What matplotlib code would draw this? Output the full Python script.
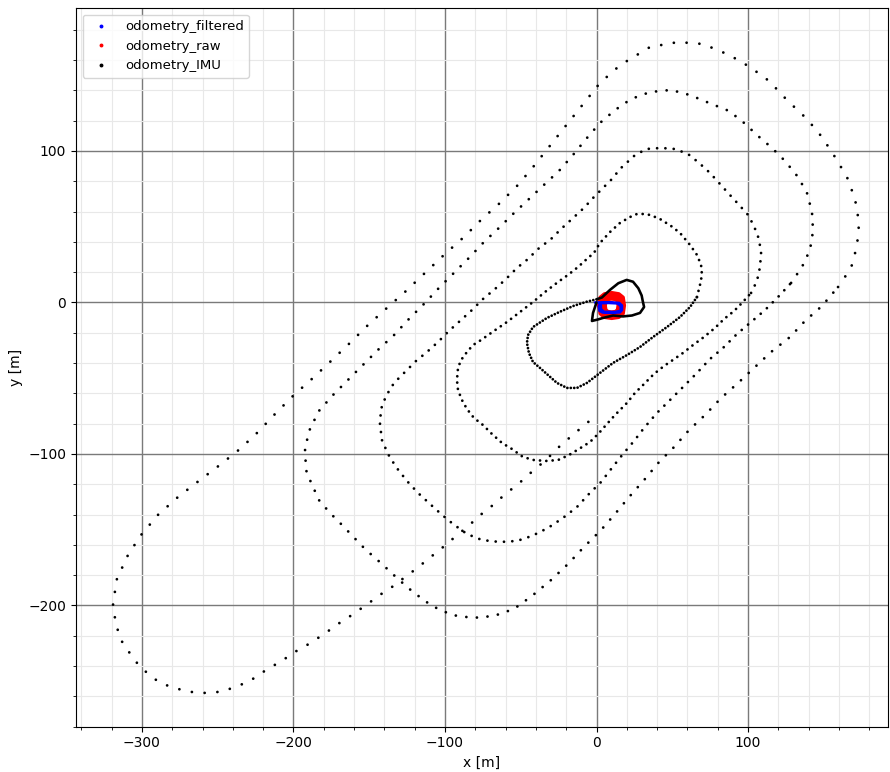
import matplotlib.pyplot as plt
from matplotlib.lines import Line2D
from matplotlib.ticker import MultipleLocator

# ---- odometry traces, metres (x, y) ----
filtered_xy = [(-1.0, 0.0), (4.0, 0.0), (10.0, 0.0), (15.0, -0.3), (16.8, -2.0),
               (16.8, -5.0), (15.5, -6.5), (10.0, -6.8), (4.0, -6.6), (2.0, -5.5),
               (1.5, -2.5), (2.5, -0.5), (8.0, -0.3), (14.0, -0.6), (16.0, -2.5),
               (16.0, -5.5), (12.0, -6.3), (5.0, -6.2), (3.0, -4.5), (2.8, -1.5)]

raw_xy = [(1.8, -2.0), (2.6, 3.3), (5.3, 5.5), (10.0, 6.3), (14.7, 5.5), (17.4, 3.3),
          (18.2, -2.0), (17.4, -7.3), (14.7, -9.6), (10.0, -10.3), (5.3, -9.6),
          (2.6, -7.3), (1.8, -2.0), (4.0, -2.0), (4.6, 2.0), (6.5, 3.5), (10.0, 4.0),
          (13.5, 3.5), (15.4, 2.0), (16.0, -2.0), (15.4, -6.0), (13.5, -7.6),
          (10.0, -8.0), (6.5, -7.6), (4.6, -6.0), (4.0, -2.0), (5.5, -2.0), (6.0, 1.0),
          (7.5, 2.2), (10.0, 2.5), (12.5, 2.2), (14.0, 1.0), (14.5, -2.0), (14.0, -5.0),
          (12.5, -6.2), (10.0, -6.5), (7.5, -6.2), (6.0, -5.0), (5.5, -2.0)]

# IMU odometry, split into laps of the drifting spiral
imu_lap_a = [(0.0, 0.0), (-2.3, -6.9), (-3.0, -12.2), (1.0, -11.2), (4.3, -10.2),
             (10.9, -8.6), (17.5, -9.2), (23.4, -8.6), (28.7, -6.9), (31.4, -3.0),
             (30.5, 1.0), (29.8, 4.6), (27.6, 9.4), (24.1, 13.7), (19.9, 14.9),
             (14.4, 12.7), (8.9, 8.3), (3.6, 3.3), (0.1, 2.1)]

imu_lap_b = [(0.1, 2.1), (-6.5, 0.5), (-15.3, -2.3), (-24.1, -6.1), (-32.7, -10.2),
             (-41.9, -16.2), (-45.2, -21.5), (-45.9, -26.7), (-44.6, -33.3),
             (-41.9, -39.3), (-37.3, -43.2), (-32.0, -47.9), (-26.1, -53.1),
             (-19.5, -56.4), (-12.9, -56.4), (-6.3, -53.1), (2.3, -46.5),
             (10.9, -39.9), (20.1, -34.7), (28.7, -29.4), (37.3, -22.8),
             (46.5, -16.2), (55.1, -9.6), (61.7, -3.0), (66.3, 3.6)]

imu_lap_c = [(66.3, 3.6), (68.3, 11.6), (69.6, 18.2), (69.0, 24.8), (66.3, 31.4),
             (61.7, 38.0), (55.1, 45.9), (49.2, 50.5), (41.9, 55.1), (35.3, 57.8),
             (30.7, 58.4), (26.7, 58.4), (22.1, 56.4), (15.5, 52.5), (8.9, 46.5),
             (2.3, 39.3), (-1.7, 32.7), (-5.6, 29.4), (-12.2, 23.4), (-18.8, 18.2),
             (-25.4, 13.5), (-34.0, 6.9), (-41.9, 0.3), (-50.5, -6.3), (-59.1, -12.9),
             (-67.7, -18.8), (-76.2, -24.8), (-81.5, -28.1), (-85.5, -32.7),
             (-89.4, -38.0), (-91.4, -43.2), (-92.1, -51.2), (-91.4, -57.8),
             (-88.8, -64.4), (-85.5, -70.3), (-80.9, -76.2), (-74.9, -80.9),
             (-69.0, -86.8), (-62.4, -92.7), (-55.8, -96.7), (-48.5, -102.0),
             (-41.3, -104.0), (-33.3, -104.6), (-25.4, -104.0), (-18.2, -100.7),
             (-11.6, -96.7), (-4.3, -92.1), (1.7, -86.1), (6.9, -80.2), (12.2, -74.3),
             (20.1, -66.3), (25.4, -59.7), (31.4, -53.8), (37.9, -47.2), (44.6, -41.9),
             (50.5, -37.9), (57.1, -33.3), (63.7, -28.1), (70.9, -22.8), (78.2, -16.8),
             (84.2, -10.9), (90.8, -5.6), (96.0, -0.3), (102.0, 6.3)]

imu_lap_d = [(102.0, 6.3), (105.9, 14.2), (107.9, 23.4), (108.6, 32.7), (107.2, 41.9),
             (103.9, 50.5), (100.0, 57.8), (94.1, 64.4), (88.1, 70.9), (81.5, 78.2),
             (74.9, 85.5), (67.7, 92.1), (60.4, 98.0), (51.8, 101.3), (42.6, 102.0),
             (32.7, 101.3), (24.8, 96.7), (16.2, 88.8), (9.6, 80.9), (2.3, 73.6),
             (-1.7, 69.6), (-8.3, 62.4), (-16.2, 55.1), (-23.4, 48.5), (-30.0, 41.9),
             (-38.6, 35.3), (-45.2, 28.7), (-52.5, 22.8), (-59.7, 15.5), (-67.0, 8.9),
             (-74.9, 2.3), (-82.2, -5.0), (-90.1, -12.2), (-97.4, -18.8),
             (-104.6, -26.1), (-111.9, -32.7), (-119.1, -38.6), (-125.7, -45.2),
             (-133.6, -53.1), (-138.9, -61.7), (-142.2, -70.3), (-142.9, -80.2),
             (-141.6, -90.8), (-137.6, -100.0), (-132.3, -108.6), (-125.1, -117.8),
             (-117.8, -125.7), (-109.9, -133.0), (-102.6, -139.6), (-94.7, -146.2),
             (-85.5, -152.8), (-75.6, -156.8), (-63.7, -158.1), (-52.5, -157.4),
             (-42.6, -154.1), (-32.0, -148.8), (-22.1, -142.2), (-12.9, -135.0),
             (-5.0, -126.4), (3.0, -118.5), (10.2, -109.2), (17.5, -100.0),
             (24.8, -91.4), (31.4, -82.8), (39.9, -72.9), (49.2, -63.7), (57.8, -55.1),
             (66.3, -46.5), (74.9, -37.3), (83.5, -30.0), (92.7, -20.8), (101.3, -13.5),
             (111.2, -5.0), (119.8, 3.6), (128.4, 12.9)]

imu_lap_e = [(128.4, 12.9), (135.6, 23.4), (140.9, 34.7), (142.9, 47.2), (142.2, 59.7),
             (138.9, 72.3), (133.0, 82.8), (124.4, 93.4), (115.8, 102.0),
             (106.6, 109.9), (97.4, 118.5), (87.5, 126.4), (74.3, 131.7), (61.7, 136.9),
             (49.2, 140.3), (35.3, 138.9), (22.8, 134.3), (12.2, 127.0), (2.3, 118.5),
             (-6.9, 107.9), (-15.5, 97.4), (-24.8, 86.8), (-34.7, 77.6), (-45.2, 67.7),
             (-55.1, 58.4), (-64.4, 49.2), (-74.3, 39.9), (-84.2, 29.4), (-94.1, 19.5),
             (-104.0, 9.6), (-113.2, -0.3), (-123.8, -10.9), (-133.6, -21.5),
             (-143.6, -30.7), (-152.8, -39.9), (-163.4, -50.5), (-173.9, -61.1),
             (-183.2, -71.6), (-189.1, -83.5), (-192.4, -96.0), (-191.7, -110.6),
             (-189.1, -117.2), (-183.2, -130.4), (-175.9, -138.9), (-168.6, -146.2),
             (-152.8, -162.7), (-141.6, -172.6), (-131.0, -182.5), (-121.1, -191.1),
             (-108.6, -200.3), (-95.4, -206.3), (-81.5, -208.2), (-67.7, -206.9),
             (-54.5, -202.3), (-42.6, -193.7), (-30.0, -183.2), (-18.8, -172.6),
             (-8.3, -161.4), (3.0, -150.2), (12.2, -139.6), (21.5, -128.4),
             (32.0, -116.5), (41.3, -105.3), (51.2, -95.4), (61.1, -84.2),
             (71.6, -74.3), (82.2, -63.1), (94.1, -52.5), (104.6, -42.6),
             (115.2, -32.7), (127.7, -22.8), (137.6, -12.2), (148.8, -2.3),
             (159.4, 10.2)]

imu_lap_f = [(159.4, 10.2), (168.0, 22.8), (171.9, 37.3), (173.3, 52.5), (170.6, 68.3),
             (165.3, 82.8), (157.4, 96.0), (148.8, 109.2), (138.9, 121.1),
             (125.7, 133.6), (113.9, 146.2), (101.3, 155.4), (87.5, 163.4),
             (70.3, 170.6), (53.8, 171.9), (35.3, 168.6), (20.1, 159.4), (13.5, 154.8),
             (2.3, 144.9), (-8.3, 131.6), (-21.5, 115.1), (-31.4, 102.6), (-41.3, 90.1),
             (-51.8, 77.6), (-63.7, 65.7), (-75.6, 55.1), (-87.5, 43.2), (-100.0, 32.0),
             (-113.2, 19.5), (-125.7, 7.6), (-138.3, -3.6), (-150.8, -14.9),
             (-162.7, -26.7), (-175.2, -38.6), (-187.1, -49.8), (-199.7, -61.1),
             (-211.5, -72.9), (-223.4, -85.5), (-235.3, -96.7), (-248.5, -107.2),
             (-261.7, -117.2), (-276.2, -128.4), (-289.4, -140.2), (-300.6, -153.5),
             (-309.2, -166.7), (-316.5, -182.5), (-319.1, -199.0), (-317.8, -208.2),
             (-315.8, -216.8), (-312.5, -225.4), (-306.6, -233.3), (-301.3, -240.6),
             (-294.7, -245.9), (-288.1, -251.2), (-280.2, -253.8), (-271.6, -256.4),
             (-263.0, -257.7), (-253.8, -257.7), (-245.9, -256.4), (-236.6, -253.1),
             (-228.7, -249.8), (-222.1, -245.2), (-214.8, -240.6), (-207.6, -236.6),
             (-200.3, -231.3), (-193.1, -227.4), (-185.8, -222.8), (-177.9, -217.5),
             (-170.6, -212.2), (-163.4, -207.6), (-154.8, -201.6), (-147.5, -196.4),
             (-140.2, -191.1), (-133.0, -186.5), (-126.4, -181.2), (-119.1, -175.9),
             (-111.9, -170.0), (-105.3, -164.7), (-98.7, -159.4), (-92.7, -154.1),
             (-86.1, -148.8), (-80.2, -143.6), (-73.6, -137.6), (-66.3, -132.3),
             (-60.4, -126.4), (-53.1, -121.1), (-46.5, -115.2), (-40.6, -109.9),
             (-34.0, -104.6), (-28.1, -98.7), (-22.1, -92.7), (-15.5, -87.5),
             (-9.6, -82.2), (-3.0, -76.9)]

labels = ["odometry_filtered", "odometry_raw", "odometry_IMU"]
colors = ["#0000ff", "#ff0000", "#000000"]

DPI = 100
DOT_PX = 2.8

fig = plt.figure(figsize=(8.9, 7.72), dpi=DPI)
ax = fig.add_axes([0.0854, 0.0587, 0.9124, 0.9306])


def dotted(pts, color, step_px, dot_px=DOT_PX, zorder=3):
    # samples along a track: zero-length round dashes give one dot every step_px
    xs, ys = zip(*pts)
    lw = dot_px * 72 / DPI
    ax.plot(xs, ys, color=color, lw=lw, linestyle=(0, (0.01, step_px / dot_px)),
            dash_capstyle="round", solid_joinstyle="round", zorder=zorder)


def solid(pts, color, width_px, zorder=3):
    xs, ys = zip(*pts)
    ax.plot(xs, ys, color=color, lw=width_px * 72 / DPI, solid_capstyle="round",
            solid_joinstyle="round", zorder=zorder)


solid(raw_xy, colors[1], 4.0, zorder=3)
solid(filtered_xy, colors[0], 2.6, zorder=3.5)

solid(imu_lap_a, colors[2], 2.6, zorder=4)
dotted(imu_lap_b, colors[2], 3.4, zorder=4)
dotted(imu_lap_c, colors[2], 6.3, zorder=4)
dotted(imu_lap_d, colors[2], 8.3, zorder=4)
dotted(imu_lap_e, colors[2], 10.6, zorder=4)
dotted(imu_lap_f, colors[2], 12.8, zorder=4)

ax.set_xlim(-343.5, 192.4)
ax.set_ylim(-280.0, 194.2)

ax.xaxis.set_major_locator(MultipleLocator(100))
ax.xaxis.set_minor_locator(MultipleLocator(20))
ax.yaxis.set_major_locator(MultipleLocator(100))
ax.yaxis.set_minor_locator(MultipleLocator(20))
ax.set_axisbelow(True)
ax.grid(True, which="major", color="#7a7a7a", lw=1.0)
ax.grid(True, which="minor", color="#e8e8e8", lw=0.8)

ax.set_xlabel("x [m]")
ax.set_ylabel("y [m]")

handles = [Line2D([], [], ls="", marker="o", ms=1.8, color=c) for c in colors]
ax.legend(handles, labels, loc="upper left", fontsize=9.5)

fig.savefig("out.png", dpi=DPI)
